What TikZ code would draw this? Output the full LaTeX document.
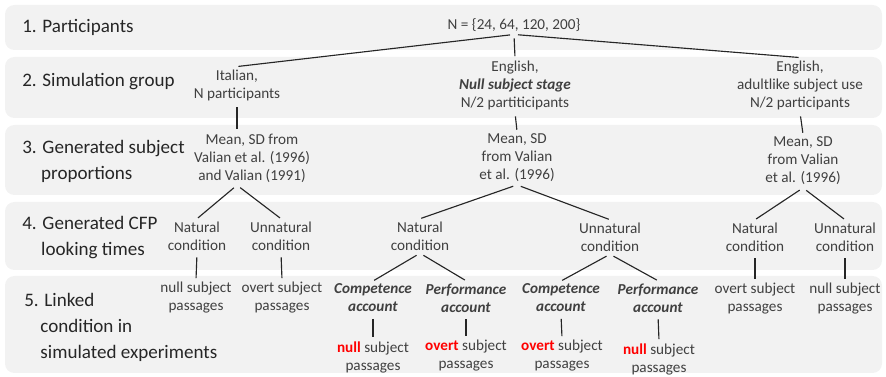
\documentclass[tikz,border=0pt]{standalone}
\usepackage{fontspec}
\setmainfont{Carlito}
\definecolor{bandgray}{HTML}{F2F2F2}
\definecolor{txtgray}{HTML}{404040}
\definecolor{accred}{HTML}{FF0000}
\newcommand{\hl}[1]{\textcolor{accred}{\textbf{#1}}}
\newcommand{\acc}[1]{\textbf{\textit{#1}}}

\begin{document}
\begin{tikzpicture}[x=0.75pt,y=-0.75pt,
	band/.style={fill=bandgray, rounded corners=7pt},
	row/.style={anchor=west, align=left, text=black!85, inner sep=0pt,
		font=\fontsize{14.3}{19.5}\selectfont},
	leaf/.style={align=center, inner sep=2pt, text=txtgray,
		font=\fontsize{11.4}{13.5}\selectfont},
	link/.style={draw=black!85, line width=0.85pt, shorten <=3pt, shorten >=1pt}]
	\useasboundingbox (0,0) rectangle (886,377);

	% background bands
	\fill[band] (5,5) rectangle (882,50);
	\fill[band] (5,57) rectangle (882,118);
	\fill[band] (5,125) rectangle (882,195);
	\fill[band] (5,202) rectangle (882,270);
	\fill[band] (5,276) rectangle (882,373);

	% row labels
	\node [row] (lab1) at (22,27) {1. Participants};
	\node [row] (lab2) at (22,82) {2. Simulation group};
	\node [row] (lab3) at (22,161) {3. Generated subject \\ \hspace*{0.99em}proportions};
	\node [row] (lab4) at (22,238) {4. Generated CFP \\ \hspace*{0.99em}looking times};
	\node [row] (lab5) at (24,327) {5. Linked \\ \hspace*{0.85em}condition in \\ \hspace*{0.85em}simulated experiments};

	% participants and groups
	\node [leaf] (N) at (514,25) {N = \{24, 64, 120, 200\}};
	\node [leaf] (it) at (237,85) {Italian, \\ N participants};
	\node [leaf] (enA) at (515,85) {English, \\ \acc{Null subject stage} \\ N/2 partiticipants};
	\node [leaf] (enB) at (800,85) {English, \\ adultlike subject use \\ N/2 participants};

	% subject proportions
	\node [leaf] (mIt) at (252,158) {Mean, SD from \\ Valian et al. (1996) \\ and Valian (1991)};
	\node [leaf] (mA) at (517,158) {Mean, SD \\ from Valian \\ et al. (1996)};
	\node [leaf] (mB) at (803,161) {Mean, SD \\ from Valian \\ et al. (1996)};
	\coordinate (itTop) at (it.south |- mIt.north);
	\coordinate (itFork) at (it.south |- mIt.south);

	% looking times
	\node [leaf] (itNat) at (197,236) {Natural \\ condition};
	\node [leaf] (itUnn) at (281,236) {Unnatural \\ condition};
	\node [leaf] (aNat) at (420,236) {Natural \\ condition};
	\node [leaf] (aUnn) at (610,237) {Unnatural \\ condition};
	\node [leaf] (bNat) at (755,237) {Natural \\ condition};
	\node [leaf] (bUnn) at (845,237) {Unnatural \\ condition};

	% linked conditions
	\node [leaf] (itNull) at (196,298) {null subject \\ passages};
	\node [leaf] (itOvert) at (282,298) {overt subject \\ passages};
	\node [leaf] (aNatComp) at (373,298) {\acc{Competence} \\ \acc{account}};
	\node [leaf] (aNatPerf) at (466,298) {\acc{Performance} \\ \acc{account}};
	\node [leaf] (aUnnComp) at (561,298) {\acc{Competence} \\ \acc{account}};
	\node [leaf] (aUnnPerf) at (658,298) {\acc{Performance} \\ \acc{account}};
	\node [leaf] (bOvert) at (755,299) {overt subject \\ passages};
	\node [leaf] (bNull) at (845,299) {null subject \\ passages};
	\node [leaf] (aNatCompRes) at (373,357) {\hl{null} subject \\ passages};
	\node [leaf] (aNatPerfRes) at (466,356) {\hl{overt} subject \\ passages};
	\node [leaf] (aUnnCompRes) at (562,356) {\hl{overt} subject \\ passages};
	\node [leaf] (aUnnPerfRes) at (659,359) {\hl{null} subject \\ passages};

	% connectors
	\foreach \child in {it,enA,enB}
		\draw[link] (N.south) -- (\child.north);
	\draw[link] (it.south) -- (itTop);
	\draw[link] (enA.south) -- (mA.north);
	\draw[link] (enB.south) -- (mB.north);
	\draw[link] (itFork) -- (itNat.north);
	\draw[link] (itFork) -- (itUnn.north);
	\foreach \parent/\kidA/\kidB in {mA/aNat/aUnn, mB/bNat/bUnn,
		aNat/aNatComp/aNatPerf, aUnn/aUnnComp/aUnnPerf} {
		\draw[link] (\parent.south) -- (\kidA.north);
		\draw[link] (\parent.south) -- (\kidB.north);
	}
	\foreach \parent/\kid in {itNat/itNull, itUnn/itOvert, bNat/bOvert, bUnn/bNull,
		aNatComp/aNatCompRes, aNatPerf/aNatPerfRes,
		aUnnComp/aUnnCompRes, aUnnPerf/aUnnPerfRes}
		\draw[link] (\parent.south) -- (\kid.north);
\end{tikzpicture}
\end{document}
